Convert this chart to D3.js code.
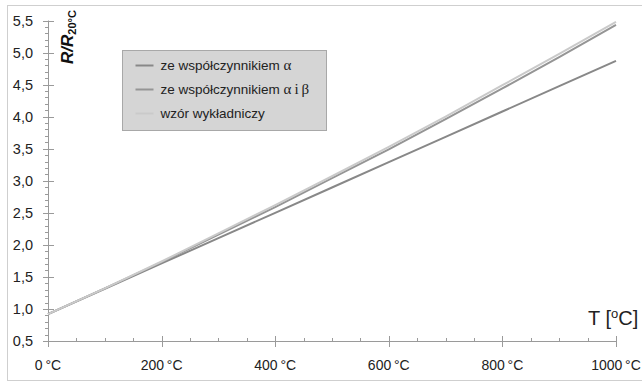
<!DOCTYPE html>
<html>
<head>
<meta charset="utf-8">
<script src="https://cdn.jsdelivr.net/npm/d3@7"></script>
<style>
  body { margin: 0; background: #fff; }
  svg { display: block; font-family: "Liberation Sans", Arial, sans-serif; }
</style>
</head>
<body>
<div id="chart"></div>
<script>
// temperatures (°C) and the three R/R20 curves
const temps = [0, 100, 200, 300, 400, 500, 600, 700, 800, 900, 1000];
const alphaVals = [0.92, 1.315, 1.71, 2.105, 2.50, 2.895, 3.29, 3.685, 4.08, 4.475, 4.87];
const alphaBetaVals = [0.92, 1.32, 1.73, 2.16, 2.59, 3.04, 3.49, 3.96, 4.44, 4.93, 5.43];
const expVals = [0.92, 1.32, 1.74, 2.18, 2.62, 3.07, 3.53, 4.00, 4.49, 4.98, 5.48];
const xTickLabels = ["0", "200", "400", "600", "800", "1000"];
const yTickLabels = ["0,5", "1,0", "1,5", "2,0", "2,5", "3,0", "3,5", "4,0", "4,5", "5,0", "5,5"];

const series = [
    { name: "ze współczynnikiem ", greek: "α", values: alphaVals, color: "#888888" },
    { name: "ze współczynnikiem ", greek: "α\u2009i\u2009β", values: alphaBetaVals, color: "#959595" },
    { name: "wzór wykładniczy", greek: "", values: expVals, color: "#cacaca" }
];

const W = 642, H = 383;
const svg = d3.select("#chart").append("svg")
    .attr("width", W)
    .attr("height", H);

// outer frame
svg.append("rect")
    .attr("x", 7.5).attr("y", 5.5)
    .attr("width", 640).attr("height", 375)
    .attr("fill", "none")
    .attr("stroke", "#cfcfcf");

const x = d3.scaleLinear().domain([0, 1000]).range([48, 616]);
const y = d3.scaleLinear().domain([0.5, 5.5]).range([341, 20.5]);

const axisColor = "#9a9a9a";
const g = svg.append("g");

// x axis
g.append("line")
    .attr("x1", x(0)).attr("x2", x(1000))
    .attr("y1", y(0.5) + 0.5).attr("y2", y(0.5) + 0.5)
    .attr("stroke", axisColor);
g.selectAll(".xminor")
    .data(x.ticks(20))
    .join("line")
    .attr("x1", d => Math.round(x(d)) + 0.5).attr("x2", d => Math.round(x(d)) + 0.5)
    .attr("y1", d => d % 200 === 0 ? y(0.5) - 5 : y(0.5) - 3)
    .attr("y2", d => d % 200 === 0 ? y(0.5) + 6 : y(0.5) + 0.5)
    .attr("stroke", axisColor);
g.selectAll(".xlab")
    .data(x.ticks(5))
    .join("text")
    .attr("x", d => x(d))
    .attr("y", 370)
    .attr("text-anchor", "middle")
    .attr("font-size", 14)
    .attr("fill", "#222")
    .text((d, i) => xTickLabels[i] + "\u2009°C");

// y axis
g.append("line")
    .attr("x1", x(0) + 0.5).attr("x2", x(0) + 0.5)
    .attr("y1", y(0.5)).attr("y2", y(5.5))
    .attr("stroke", axisColor);
g.selectAll(".yminor")
    .data(d3.range(5, 56).map(v => v / 10))
    .join("line")
    .attr("y1", d => Math.round(y(d)) + 0.5).attr("y2", d => Math.round(y(d)) + 0.5)
    .attr("x1", d => Math.round(d * 10) % 5 === 0 ? x(0) - 5 : x(0) - 3)
    .attr("x2", d => Math.round(d * 10) % 5 === 0 ? x(0) + 6 : x(0) + 0.5)
    .attr("stroke", axisColor);
g.selectAll(".ylab")
    .data(d3.range(11).map(i => 0.5 + i * 0.5))
    .join("text")
    .attr("x", 33)
    .attr("y", d => y(d) + 5)
    .attr("text-anchor", "end")
    .attr("font-size", 14.5)
    .attr("fill", "#222")
    .text((d, i) => yTickLabels[i]);

// y title, rotated
const yTitle = svg.append("text")
    .attr("transform", "translate(73,64) rotate(-90)")
    .attr("fill", "#111");
yTitle.append("tspan")
    .attr("font-size", 17)
    .attr("font-weight", "bold")
    .attr("font-style", "italic")
    .text("R/R");
yTitle.append("tspan")
    .attr("font-size", 11)
    .attr("font-weight", "bold")
    .attr("dy", 3)
    .text("20°C");

// x title
const xTitle = svg.append("text")
    .attr("x", 588).attr("y", 325)
    .attr("font-size", 20)
    .attr("fill", "#222");
xTitle.append("tspan").text("T [");
xTitle.append("tspan").attr("font-size", 13).attr("dy", -7).text("o");
xTitle.append("tspan").attr("dy", 7).text("C]");

// curves
const line = d3.line()
    .x((d, i) => x(temps[i]))
    .y(d => y(d));

series.forEach(s => {
    svg.append("path")
        .datum(s.values)
        .attr("d", line)
        .attr("fill", "none")
        .attr("stroke", s.color)
        .attr("stroke-width", 2);
});

// legend
const legend = svg.append("g").attr("transform", "translate(122.5,50.5)");
legend.append("rect")
    .attr("width", 204).attr("height", 80)
    .attr("fill", "#d5d5d5")
    .attr("stroke", "#a8a8a8");
const rows = legend.selectAll(".row")
    .data(series)
    .join("g")
    .attr("transform", (d, i) => `translate(0,${15 + i * 24})`);
rows.append("line")
    .attr("x1", 13).attr("x2", 31)
    .attr("stroke", d => d.color)
    .attr("stroke-width", 2);
const labels = rows.append("text")
    .attr("x", 38).attr("y", 4.5)
    .attr("font-size", 13.5)
    .attr("fill", "#222");
labels.append("tspan").text(d => d.name);
labels.append("tspan")
    .attr("font-family", "'Liberation Serif', 'DejaVu Serif', serif")
    .attr("font-size", 15)
    .text(d => d.greek);
</script>
</body>
</html>
